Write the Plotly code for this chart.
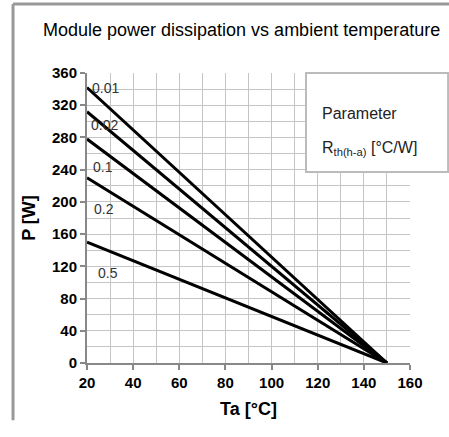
import plotly.graph_objects as go

# Data
ta = [20, 150]
series_names = ["0.01", "0.02", "0.1", "0.2", "0.5"]
p_values = {
    "0.01": [342, 0],
    "0.02": [312, 0],
    "0.1": [278, 0],
    "0.2": [230, 0],
    "0.5": [150, 0],
}
label_x = [28.2, 27.4, 27.0, 27.4, 29.0]
label_y = [342, 295, 243, 191, 112]
x_ticks = [20, 40, 60, 80, 100, 120, 140, 160]
y_ticks = [0, 40, 80, 120, 160, 200, 240, 280, 320, 360]

FONT = "Liberation Sans, Arial, sans-serif"

fig = go.Figure()
for name in series_names:
    fig.add_trace(go.Scatter(x=ta, y=p_values[name], mode="lines",
                             line=dict(color="black", width=3), name=name,
                             showlegend=False, hoverinfo="skip"))

for name, lx, ly in zip(series_names, label_x, label_y):
    fig.add_annotation(x=lx, y=ly, text=name, showarrow=False,
                       font=dict(family=FONT, size=14, color="#333333"))

fig.update_layout(
    width=449, height=437,
    margin=dict(l=87, r=39, t=73, b=74),
    paper_bgcolor="white", plot_bgcolor="white",
    showlegend=False,
)
fig.update_xaxes(range=[20, 160], tickvals=x_ticks, ticks="outside", ticklen=5,
                 tickcolor="#888888", tickwidth=2,
                 showline=True, linecolor="#888888", linewidth=2,
                 showgrid=True, gridcolor="#c4c4c4", gridwidth=1,
                 minor=dict(dtick=10, showgrid=True, gridcolor="#c4c4c4", gridwidth=1),
                 tickfont=dict(family=FONT, size=15, color="black", weight="bold"),
                 title=dict(text="Ta [°C]", standoff=12,
                            font=dict(family=FONT, size=18, color="black", weight="bold")),
                 zeroline=False, fixedrange=True)
fig.update_yaxes(range=[0, 360], tickvals=y_ticks, ticks="outside", ticklen=5,
                 tickcolor="#888888", tickwidth=2,
                 showline=True, linecolor="#888888", linewidth=2,
                 showgrid=True, gridcolor="#c4c4c4", gridwidth=1,
                 minor=dict(dtick=20, showgrid=True, gridcolor="#c4c4c4", gridwidth=1),
                 tickfont=dict(family=FONT, size=15, color="black", weight="bold"),
                 title=dict(text="P [W]", standoff=12,
                            font=dict(family=FONT, size=18, color="black", weight="bold")),
                 zeroline=False, fixedrange=True)

# Parameter box
fig.add_shape(type="rect", xref="paper", yref="paper",
              x0=0.678, x1=1.118, y0=0.659, y1=1.0,
              line=dict(color="#bbbbbb", width=2), fillcolor="white", layer="above")
fig.add_annotation(xref="paper", yref="paper", x=0.722, y=0.895, xanchor="left",
                   text="Parameter", showarrow=False,
                   font=dict(family=FONT, size=16, color="#222222"))
fig.add_annotation(xref="paper", yref="paper", x=0.722, y=0.778, xanchor="left",
                   text="R<sub>th(h-a)</sub> [°C/W]", showarrow=False,
                   font=dict(family=FONT, size=16, color="#222222"))

# Title
fig.add_annotation(xref="paper", yref="paper", x=0.477, y=1.148, yanchor="middle",
                   text="Module power dissipation vs ambient temperature", showarrow=False,
                   font=dict(family=FONT, size=18, color="black"))

# Outer frame (top and left)
fig.add_shape(type="line", xref="paper", yref="paper", x0=-0.229, x1=1.125,
              y0=1.238, y1=1.238, line=dict(color="#999999", width=3))
fig.add_shape(type="line", xref="paper", yref="paper", x0=-0.229, x1=-0.229,
              y0=1.238, y1=-0.197, line=dict(color="#999999", width=3))

fig.write_html("out.html", config={"displayModeBar": False},
               post_script="document.body.style.margin='0';document.body.style.overflow='hidden';")
